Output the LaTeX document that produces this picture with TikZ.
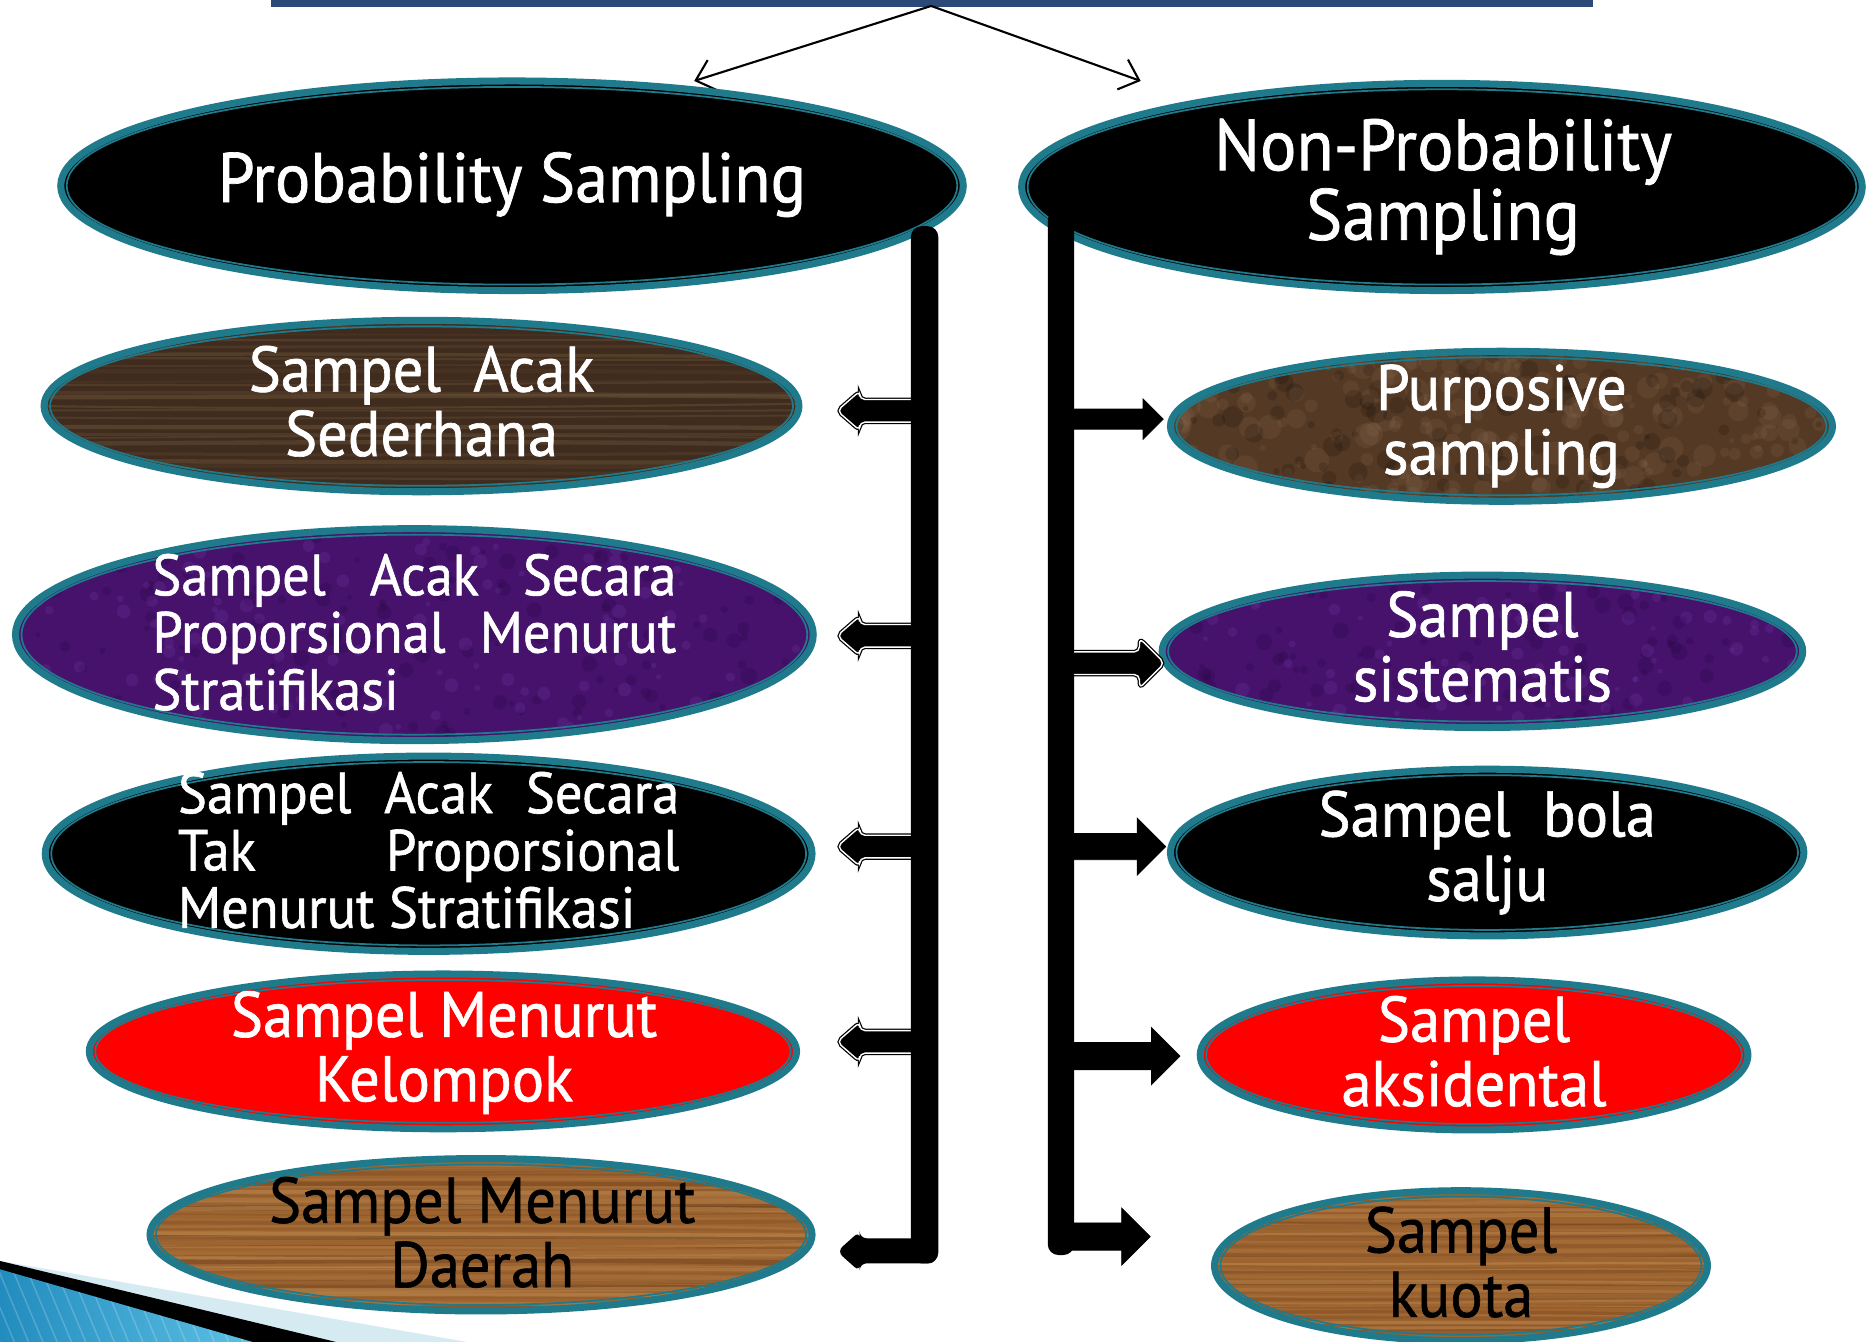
\documentclass[tikz,border=0pt]{standalone}
\usepackage{fontspec}
\setmainfont{PT Sans}[FakeStretch=0.94, FakeBold=1]
\usetikzlibrary{arrows.meta}

\definecolor{tealbingkai}{RGB}{31,122,140}
\definecolor{birutua}{RGB}{44,74,119}
\definecolor{kayugelap}{RGB}{64,44,30}
\definecolor{seratgelap}{RGB}{130,105,72}
\definecolor{kayuterang}{RGB}{158,100,48}
\definecolor{seratcoklat}{RGB}{98,56,24}
\definecolor{seratmuda}{RGB}{205,155,95}
\definecolor{ungu}{RGB}{70,18,108}
\definecolor{ungugelap}{RGB}{42,8,72}
\definecolor{ungumuda}{RGB}{108,48,152}
\definecolor{marmer}{RGB}{84,57,36}
\definecolor{marmermuda}{RGB}{168,138,102}
\definecolor{biruhiasan}{RGB}{34,140,190}
\definecolor{biruterang}{RGB}{92,192,228}
\definecolor{birumuda}{RGB}{214,234,242}

\newlength{\ux}
\setlength{\ux}{0.011907cm}
\newcommand{\besar}{\fontsize{20}{19.6}\selectfont}
\newcommand{\sedang}{\fontsize{18.3}{18.3}\selectfont}
\newcommand{\kecil}{\fontsize{16.5}{16.3}\selectfont}

% ellipse: cx, cy, rx, ry, fill, texture
\newcommand{\elips}[6]{%
  \fill[#5] (#1,#2) ellipse [x radius=#3, y radius=#4];
  \begin{scope}
    \clip (#1,#2) ellipse [x radius=#3, y radius=#4];
    #6
  \end{scope}
  \draw[tealbingkai, line width=2pt] (#1,#2) ellipse [x radius=#3, y radius=#4];
  \draw[tealbingkai, line width=0.5pt] (#1,#2) ellipse [x radius={#3-5}, y radius={#4-5}];}
% wood grain: cx, cy, rx, colour, offset
\newcommand{\serat}[5]{%
  \foreach \k [evaluate=\k as \yy using {#2+5.5*\k+#5+2*rand},
               evaluate=\k as \op using {0.1+0.3*rnd},
               evaluate=\k as \lw using {0.3+1.1*rnd}] in {-14,...,14}
    \draw[#4, opacity=\op, line width=\lw pt]
      ({#1-#3},\yy) .. controls ({#1-#3/3},{\yy-3*rand}) and ({#1+#3/3},{\yy+3*rand}) .. ({#1+#3},{\yy+2*rand});}
% spots: cx, cy, rx, ry, colour, count, size, opacity
\newcommand{\bintik}[8]{%
  \foreach \k in {1,...,#6}
    \fill[#5, opacity=#8] ({#1+#3*rand},{#2+#4*rand}) circle [radius={2+#7*rnd}];}
% hollow arrow to the left, at height y
\newcommand{\panahkiri}[1]{%
  \draw[panahkosong] (703,#1) -- ++(19,-16.5) -- ++(0,7) -- ++(50,0) -- ++(0,19) -- ++(-50,0) -- ++(0,7) -- cycle;}
% arrow to the right: y, shaft half, head start, head half
\newcommand{\panahkanan}[5][panahpenuh]{%
  \draw[#1] (895,{#2-#3}) -- (#4,{#2-#3}) -- (#4,{#2-#5}) -- ({#4+#5},#2) -- (#4,{#2+#5}) -- (#4,{#2+#3}) -- (895,{#2+#3}) -- cycle;}

\tikzset{
  teks/.style={text=white, align=center, inner sep=0pt, font=\sedang},
  judul/.style={teks, font=\besar},
  panahkosong/.style={fill=black, draw=black, double=white, double distance=0.4pt, line width=0.35pt, rounded corners=1.5pt},
  panahpenuh/.style={fill=black, draw=black, line width=0.2pt},
  batang/.style={fill=black, rounded corners=3pt}
}

\begin{document}
\begin{tikzpicture}[x=0.011907cm, y=-0.011907cm]
\useasboundingbox (0,0) rectangle (1568,1127);
\pgfmathsetseed{11}

% corner decoration
\fill[birumuda] (0,1059) -- (392,1127) -- (0,1127) -- cycle;
\fill[black] (0,1059) -- (282,1127) -- (0,1127) -- cycle;
\path[left color=biruhiasan, right color=biruterang] (0,1066) -- (212,1127) -- (0,1127) -- cycle;
\begin{scope}
  \clip (0,1066) -- (212,1127) -- (0,1127) -- cycle;
  \foreach \x in {-40,-28,...,210}
    \draw[white, opacity=0.2, line width=0.4pt] (\x,1060) -- (\x+28,1127);
\end{scope}

% top bar and the two branches
\fill[birutua] (228,0) rectangle (1338,5.6);
\coordinate (puncak) at (782,5);
\coordinate (kekiri) at (583,68);
\coordinate (kekanan) at (958,68);
\draw[-{Straight Barb[length=5pt,width=9pt]}, line width=0.6pt] (puncak) -- (kekiri);
\draw[-{Straight Barb[length=5pt,width=9pt]}, line width=0.6pt] (puncak) -- (kekanan);

% ellipses
\elips{430}{156}{379}{88}{black}{}
\elips{1211}{157}{353}{87}{black}{}
\elips{354}{341}{317}{72}{kayugelap}{\serat{354}{341}{317}{seratgelap}{0}}
\elips{348}{533}{335}{89}{ungu}{\bintik{348}{533}{335}{89}{ungugelap}{160}{5}{0.3}\bintik{348}{533}{335}{89}{ungumuda}{120}{4}{0.3}}
\elips{360}{717}{322}{82}{black}{}
\elips{372}{883}{297}{65}{red}{}
\elips{404}{1037}{278}{64}{kayuterang}{\serat{404}{1037}{278}{seratcoklat}{0}\serat{404}{1037}{278}{seratmuda}{2.5}}
\elips{1261}{358}{278}{63}{marmer}{\bintik{1261}{358}{278}{63}{marmermuda}{220}{9}{0.12}\bintik{1261}{358}{278}{63}{black}{120}{7}{0.15}}
\elips{1245}{547}{269}{64}{ungu}{\bintik{1245}{547}{269}{64}{ungugelap}{130}{5}{0.3}\bintik{1245}{547}{269}{64}{ungumuda}{100}{4}{0.3}}
\elips{1249}{716}{266}{70}{black}{}
\elips{1238}{886}{230}{63}{red}{}
\elips{1227}{1063}{207}{63}{kayuterang}{\serat{1227}{1063}{207}{seratcoklat}{0}\serat{1227}{1063}{207}{seratmuda}{2.5}}

% texts
\node[judul] (prob) at (430,155) {Probability Sampling};
\node[judul, font=\fontsize{20.6}{19.8}\selectfont] (nonprob) at (1212,157) {Non-Probability\\Sampling};
\node[teks] (acak) at (354,337) {Sampel~~Acak\\Sederhana};
\node[teks, font=\kecil, align=left] (proporsional) at (348,531)
  {\hbox to 440\ux{Sampel\hfill Acak\hfill Secara}\\
   \hbox to 440\ux{Proporsional\hfill Menurut}\\
   Stratifikasi};
\node[teks, font=\kecil, align=left] (takprop) at (360,714)
  {\hbox to 421\ux{Sampel\hfill Acak\hfill Secara}\\
   \hbox to 421\ux{Tak\hfill Proporsional}\\
   Menurut Stratifikasi};
\node[teks] (kelompok) at (373,884) {Sampel Menurut\\Kelompok};
\node[teks, text=black] (daerah) at (405,1035) {Sampel Menurut\\Daerah};
\node[teks] (purposive) at (1261,358) {Purposive\\sampling};
\node[teks] (sistematis) at (1245,543) {Sampel\\sistematis};
\node[teks] (bolasalju) at (1249,716) {Sampel~~bola\\salju};
\node[teks] (aksidental) at (1238,883) {Sampel\\aksidental};
\node[teks, text=black] (kuota) at (1227,1060) {Sampel\\kuota};

% block arrows
\panahkiri{345}
\panahkiri{534}
\panahkiri{711}
\panahkiri{875}
\panahkanan{352}{8.5}{960}{17}
\panahkanan[panahkosong]{557}{9.5}{957}{21}
\panahkanan{711}{11}{955}{24}
\panahkanan{887}{11.5}{967}{24}
\panahkanan{1038.5}{11.5}{942}{24}

% the two bars
\fill[batang] (765,190) rectangle (788,1061);
\fill[batang] (880,176) rectangle (902,1054);
\fill[rounded corners=2pt] (786,1040) -- (722,1040) -- (722,1034) -- (703,1051) -- (722,1068) -- (722,1061) -- (786,1061) -- cycle;
\end{tikzpicture}
\end{document}
